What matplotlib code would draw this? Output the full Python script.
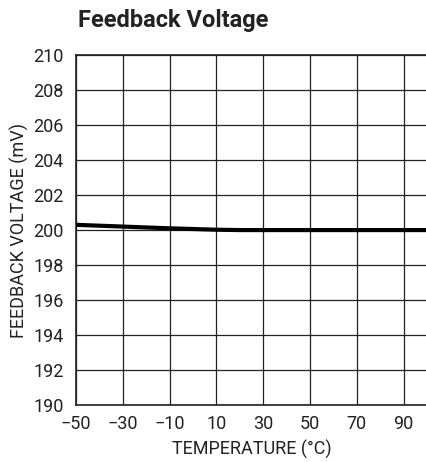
import matplotlib
matplotlib.use('Agg')
import matplotlib.pyplot as plt
from matplotlib import font_manager

# Pick a condensed font if one is installed
names = {f.name for f in font_manager.fontManager.ttflist}
family = ['Liberation Sans Narrow'] if 'Liberation Sans Narrow' in names else ['Roboto', 'DejaVu Sans']
plt.rcParams['font.family'] = family + ['DejaVu Sans']

# Data
temperature = [-50, -30, -10, 10, 20, 50, 70, 100]
feedback_mv = [200.30, 200.20, 200.10, 200.02, 200.0, 200.0, 200.0, 200.0]

x_ticks = [-50, -30, -10, 10, 30, 50, 70, 90]
x_tick_labels = ['\u221250', '\u221230', '\u221210', '10', '30', '50', '70', '90']
y_ticks = list(range(190, 211, 2))

fig = plt.figure(figsize=(4.27, 4.62), dpi=100)
ax = fig.add_axes([0.178, 0.123, 0.822, 0.758])

ax.plot(temperature, feedback_mv, color='black', linewidth=3, zorder=3)

ax.set_xlim(-50, 100)
ax.set_ylim(190, 210)
ax.set_xticks(x_ticks)
ax.set_xticklabels(x_tick_labels)
ax.set_yticks(y_ticks)
ax.grid(True, color='#222222', linewidth=0.9)
ax.tick_params(length=0, labelsize=13, colors='#222222')
ax.tick_params(axis='x', pad=7)
ax.tick_params(axis='y', pad=9)
for s in ax.spines.values():
    s.set_linewidth(1.2)
    s.set_color('#222222')
ax.spines['right'].set_visible(False)

ax.set_xlabel('TEMPERATURE (\u00b0C)', fontsize=13, labelpad=5, color='#222222')
ax.set_ylabel('FEEDBACK VOLTAGE (mV)', fontsize=13, labelpad=3, color='#222222')
fig.text(0.183, 0.955, 'Feedback Voltage', fontsize=17, fontweight='bold',
         color='#222222', va='center', ha='left')

fig.savefig('out.png', dpi=100)
